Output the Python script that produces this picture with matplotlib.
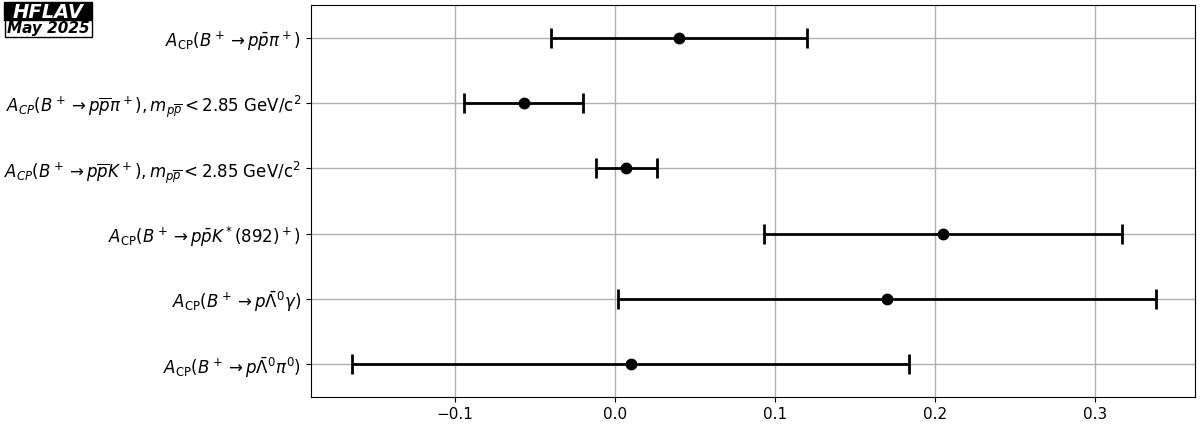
import numpy as np
import matplotlib.pyplot as plt
from matplotlib.patches import Rectangle

# measurements, top to bottom
labels = [
    r"$A_{\rm CP}(B^+ \to p\bar{p}\pi^+)$",
    r"$A_{CP}(B^+ \to p\overline{p}\pi^+), m_{p\overline{p}} < 2.85$ GeV/c$^2$",
    r"$A_{CP}(B^+ \to p\overline{p}K^+), m_{p\overline{p}} < 2.85$ GeV/c$^2$",
    r"$A_{\rm CP}(B^+ \to p\bar{p}K^*(892)^+)$",
    r"$A_{\rm CP}(B^+ \to p\bar{\Lambda}^0\gamma)$",
    r"$A_{\rm CP}(B^+ \to p\bar{\Lambda}^0\pi^0)$",
]
values = [0.04, -0.057, 0.007, 0.205, 0.17, 0.01]
errors = [0.08, 0.037, 0.019, 0.112, 0.168, 0.174]

W, H = 1200, 432
fig = plt.figure(figsize=(W / 100, H / 100), dpi=100)
ax = fig.add_axes([0.259, 0.081, 0.737, 0.907])

y = np.arange(len(values))
ax.errorbar(values, y, xerr=errors, fmt="o", color="black", ecolor="black",
            elinewidth=2, capsize=7, capthick=2, markersize=7.5, zorder=3)

ax.set_yticks(y)
ax.set_yticklabels(labels, fontsize=12)
ax.set_ylim(5.5, -0.5)
ax.set_xlim(-0.19, 0.3625)
ax.set_xticks([-0.1, 0.0, 0.1, 0.2, 0.3])
ax.tick_params(axis="x", labelsize=11)
ax.grid(True, color="#b0b0b0", linewidth=1)
ax.set_axisbelow(True)

# HFLAV logo (pixel boxes converted to figure fraction)
fig.patches.append(Rectangle((4 / W, 1 - 20 / H), 88 / W, 18 / H,
                             transform=fig.transFigure, facecolor="black",
                             edgecolor="black", linewidth=1))
fig.patches.append(Rectangle((4.5 / W, 1 - 36.5 / H), 87.5 / W, 16.5 / H,
                             transform=fig.transFigure, facecolor="white",
                             edgecolor="black", linewidth=1))
fig.text(48 / W, 1 - 18 / H, "HFLAV", fontsize=14, fontweight="bold", style="italic",
         color="white", ha="center", va="baseline")
fig.text(48 / W, 1 - 33 / H, "May 2025", fontsize=11, fontweight="bold", style="italic",
         color="black", ha="center", va="baseline")

fig.savefig("out.png", dpi=100)
